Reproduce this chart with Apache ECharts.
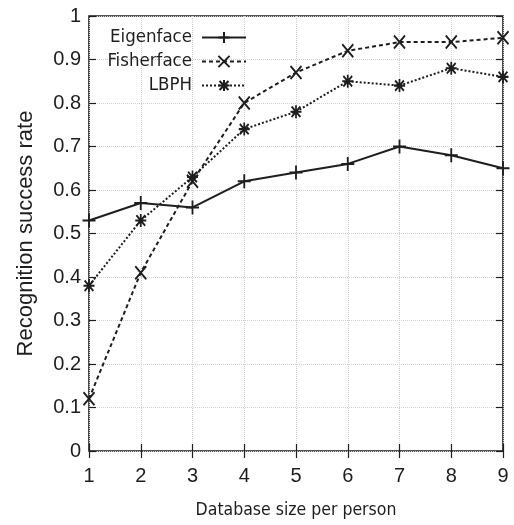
<!DOCTYPE html>
<html>
<head>
<meta charset="utf-8">
<script src="https://cdn.jsdelivr.net/npm/echarts@6/dist/echarts.min.js"></script>
<style>html,body{margin:0;padding:0;background:#fff;}#c{width:514px;height:525px;}</style>
</head>
<body>
<div id="c"></div>
<script>
const xValues = [1, 2, 3, 4, 5, 6, 7, 8, 9];
const eigenface = [0.53, 0.57, 0.56, 0.62, 0.64, 0.66, 0.70, 0.68, 0.65];
const fisherface = [0.12, 0.41, 0.62, 0.80, 0.87, 0.92, 0.94, 0.94, 0.95];
const lbph = [0.38, 0.53, 0.63, 0.74, 0.78, 0.85, 0.84, 0.88, 0.86];
const seriesNames = ['Eigenface', 'Fisherface', 'LBPH'];
const xTitle = 'Database size per person';
const yTitle = 'Recognition success rate';

const narrow = '"DejaVu Sans Condensed", "Liberation Sans", Arial, sans-serif';
const regular = '"Liberation Sans", Arial, sans-serif';
const ink = '#1e1e1e';

function pairs(vals) { return xValues.map((x, i) => [x, vals[i]]); }

const PLUS = 'path://M0,-1L0,1M-1,0L1,0';
const CROSS = 'path://M-1,-1L1,1M-1,1L1,-1';
const STAR = 'path://M0,-1L0,1M-1,0L1,0M-0.8,-0.8L0.8,0.8M-0.8,0.8L0.8,-0.8';

function mkSeries(name, vals, symbol, size, type) {
  return {
    name: name, type: 'line', data: pairs(vals),
    symbol: symbol, symbolSize: size, symbolKeepAspect: false,
    lineStyle: { color: ink, width: 2, type: type },
    itemStyle: { color: ink, borderColor: ink, borderWidth: 1.9 },
    emphasis: { disabled: true }, animation: false, z: 5
  };
}

const rowsY = [35, 59, 83];
const legends = seriesNames.map((n, i) => ({
  data: [n], orient: 'vertical', align: 'right', right: 267, top: rowsY[i] - 7,
  padding: 0, itemWidth: 44, itemHeight: 14, selectedMode: false,
  textStyle: { fontFamily: narrow, fontSize: 18.5, color: ink, padding: [0, 5, 0, 0] }
}));

const chart = echarts.init(document.getElementById('c'), null, { renderer: 'canvas' });
chart.setOption({
  animation: false,
  backgroundColor: '#fff',
  legend: legends,
  grid: { left: 89, right: 11, top: 16, bottom: 74, show: true, borderColor: ink, borderWidth: 1.6, backgroundColor: 'transparent' },
  xAxis: [{
    type: 'value', min: 1, max: 9, interval: 1,
    name: xTitle, nameLocation: 'middle', nameGap: 50,
    nameTextStyle: { fontFamily: narrow, fontSize: 17.5, color: ink },
    axisLine: { show: false },
    axisTick: { show: true, inside: true, length: 7, lineStyle: { color: ink, width: 1.2 } },
    axisLabel: { fontFamily: regular, fontSize: 20, color: ink, margin: 15 },
    splitLine: { show: true, lineStyle: { color: '#d0d0d0', type: 'dotted', width: 1 } }
  }, {
    type: 'value', min: 1, max: 9, interval: 1, position: 'top',
    axisLine: { show: false },
    axisTick: { show: true, inside: true, length: 7, lineStyle: { color: ink, width: 1.2 } },
    axisLabel: { show: false }, splitLine: { show: false }
  }],
  yAxis: [{
    type: 'value', min: 0, max: 1, interval: 0.1,
    name: yTitle, nameLocation: 'middle', nameGap: 52,
    nameTextStyle: { fontFamily: regular, fontSize: 22, color: ink },
    axisLine: { show: false },
    axisTick: { show: true, inside: true, length: 7, lineStyle: { color: ink, width: 1.2 } },
    axisLabel: { fontFamily: regular, fontSize: 20, color: ink, margin: 8,
      formatter: v => (Math.round(v * 10) / 10).toString() },
    splitLine: { show: true, lineStyle: { color: '#d0d0d0', type: 'dotted', width: 1 } }
  }, {
    type: 'value', min: 0, max: 1, interval: 0.1, position: 'right',
    axisLine: { show: false },
    axisTick: { show: true, inside: true, length: 7, lineStyle: { color: ink, width: 1.2 } },
    axisLabel: { show: false }, splitLine: { show: false }
  }],
  series: [
    mkSeries(seriesNames[0], eigenface, PLUS, [13, 14], 'solid'),
    mkSeries(seriesNames[1], fisherface, CROSS, [11, 13], [4, 3]),
    mkSeries(seriesNames[2], lbph, STAR, [11, 13], [2, 2])
  ]
});
</script>
</body>
</html>
